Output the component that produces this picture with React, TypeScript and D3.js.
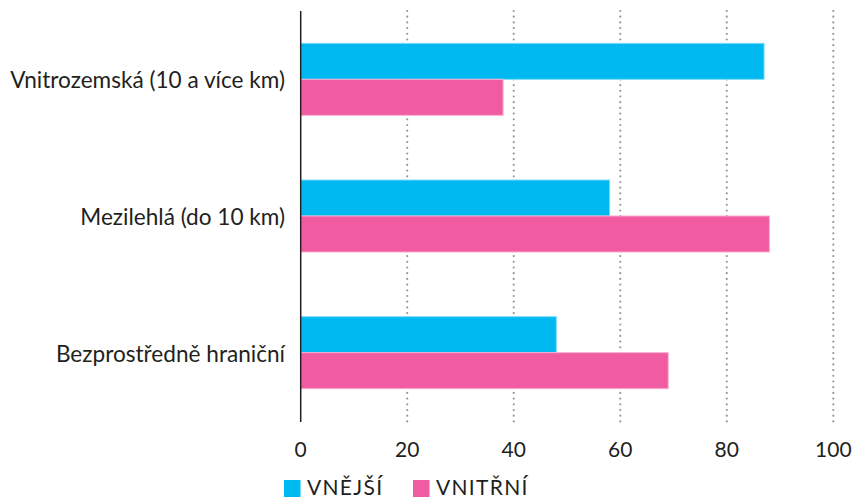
import React from "react";
import * as d3 from "d3";

const categories = ["Vnitrozemská (10 a více km)", "Mezilehlá (do 10 km)", "Bezprostředně hraniční"];
const seriesNames = ["VNĚJŠÍ", "VNITŘNÍ"];
const vnejsi = [87, 58, 48];
const vnitrni = [38, 88, 69];
const xTicks = [0, 20, 40, 60, 80, 100];

const colors = ["#00B9F1", "#F05BA1"];
const strokes = ["#7FDCF8", "#F8ADD0"];
const FONT = "Lato, 'Open Sans', sans-serif";

export default function App() {
  const W = 854, H = 499;
  const x = d3.scaleLinear().domain([0, 100]).range([300.7, 833.3]);
  const y = d3.scaleBand<string>().domain(categories).range([11, 421]).padding(0);
  const groupH = 72;
  const values = [vnejsi, vnitrni];

  return (
    <svg width={W} height={H} style={{ position: "absolute", left: 0, top: 0, background: "#fff" }}>
      {xTicks.filter((t) => t > 0).map((t) => (
        <line key={"g" + t} x1={x(t)} x2={x(t)} y1={11} y2={422}
          stroke="#999" strokeWidth={2.2} strokeDasharray="0,5.7" strokeLinecap="round" />
      ))}
      {categories.map((c, i) => {
        const cy = (y(c) as number) + y.bandwidth() / 2;
        const inner = d3.scaleBand<string>().domain(seriesNames).range([cy - groupH / 2, cy + groupH / 2]);
        return (
          <g key={c}>
            {seriesNames.map((s, j) => (
              <rect key={s} x={x(0)} y={inner(s) as number} width={x(values[j][i]) - x(0)} height={inner.bandwidth()}
                fill={colors[j]} stroke={strokes[j]} strokeWidth={1} />
            ))}
            <text x={285} y={cy + 9} textAnchor="end" fontFamily={FONT} fontSize={22.6} fill="#231F20">{c}</text>
          </g>
        );
      })}
      <line x1={x(0)} x2={x(0)} y1={11} y2={422} stroke="#231F20" strokeWidth={1.5} />
      {xTicks.map((t) => (
        <text key={"t" + t} x={x(t)} y={457} textAnchor="middle" fontFamily={FONT} fontSize={21} fill="#231F20">{t}</text>
      ))}
      {seriesNames.map((s, j) => {
        const lx = [284, 413][j];
        return (
          <g key={"l" + s}>
            <rect x={lx} y={480} width={16.5} height={17} fill={colors[j]} />
            <text x={lx + 23} y={494.5} fontFamily={FONT} fontSize={21} letterSpacing={1.3} fill="#231F20">{s}</text>
          </g>
        );
      })}
    </svg>
  );
}
